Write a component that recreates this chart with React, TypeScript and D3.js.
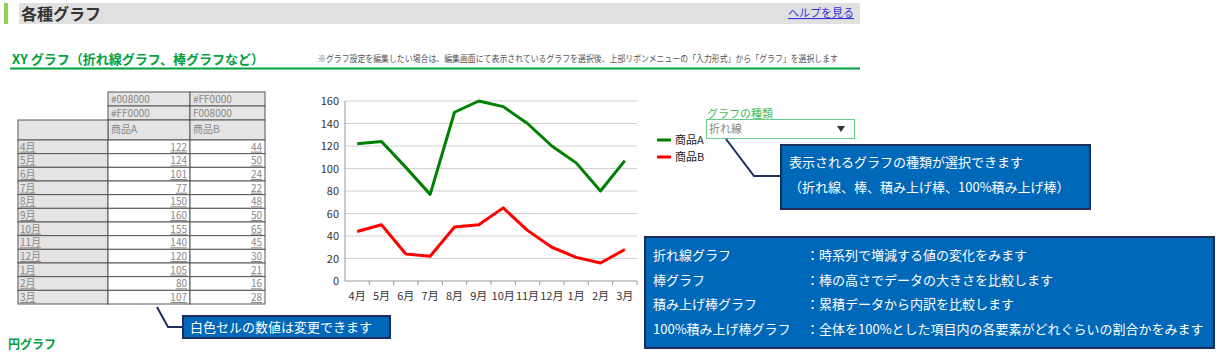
import React from 'react';
import * as d3 from 'd3';

const months = ['4月', '5月', '6月', '7月', '8月', '9月', '10月', '11月', '12月', '1月', '2月', '3月'];
const seriesNames = ['商品A', '商品B'];
const seriesColors = ['#008000', '#FF0000'];
const colorRow1 = ['#008000', '#FF0000'];
const colorRow2 = ['#FF0000', 'F008000'];
const valuesA = [122, 124, 101, 77, 150, 160, 155, 140, 120, 105, 80, 107];
const valuesB = [44, 50, 24, 22, 48, 50, 65, 45, 30, 21, 16, 28];
const yTicks = [0, 20, 40, 60, 80, 100, 120, 140, 160];

const graphTypes = ['折れ線グラフ', '棒グラフ', '積み上げ棒グラフ', '100%積み上げ棒グラフ'];
const graphDescs = [
  '：時系列で増減する値の変化をみます',
  '：棒の高さでデータの大きさを比較します',
  '：累積データから内訳を比較します',
  '：全体を100%とした項目内の各要素がどれぐらいの割合かをみます',
];

const FONT = '"Noto Sans CJK JP", "Noto Sans", sans-serif';

export default function App() {
  const W = 1219;
  const H = 352;

  // chart scales
  const x = d3.scaleBand<string>().domain(months).range([345, 637]);
  const y = d3.scaleLinear().domain([0, 160]).range([281, 101]);
  const series = [valuesA, valuesB];
  const line = d3.line<number>()
    .x((_, i) => (x(months[i]) || 0) + x.bandwidth() / 2)
    .y(d => y(d));

  // table scales
  const rowY = d3.scaleBand<string>().domain(months).range([140, 304]);
  const colX = [18, 108, 190, 265];
  const values = [valuesA, valuesB];

  return (
    <div style={{ position: 'absolute', left: 0, top: 0 }}>
      <svg width={W} height={H} style={{ display: 'block', fontFamily: FONT }}>
        <rect width={W} height={H} fill="#fff" />

        {/* page header */}
        <rect x={4} y={3} width={4} height={21} fill="#8fd14f" />
        <rect x={19} y={3} width={841} height={21} fill="#e0e0e0" />
        <text x={21} y={20} fontSize={16} fontWeight="bold" fill="#333">各種グラフ</text>
        <text x={788} y={17} fontSize={11} fill="#3333dd" textDecoration="underline">ヘルプを見る</text>

        {/* section title */}
        <text x={12} y={64} fontSize={13} fontWeight="bold" fill="#00a040">XY グラフ（折れ線グラフ、棒グラフなど）</text>
        <text x={318} y={62} fontSize={9} fill="#555" textLength={520} lengthAdjust="spacingAndGlyphs">
          ※グラフ設定を編集したい場合は、編集画面にて表示されているグラフを選択後、上部リボンメニューの「入力形式」から「グラフ」を選択します
        </text>
        <line x1={10} x2={860} y1={68.5} y2={68.5} stroke="#00a040" strokeWidth={2} />

        {/* data table */}
        <g fontSize={10} fill="#888">
          {[0, 1].map(c => (
            <g key={'h' + c}>
              <rect x={colX[c + 1]} y={92} width={colX[c + 2] - colX[c + 1]} height={14} fill="#e4e4e4" stroke="#555" strokeWidth={1} />
              <rect x={colX[c + 1]} y={106} width={colX[c + 2] - colX[c + 1]} height={14} fill="#e4e4e4" stroke="#555" strokeWidth={1} />
              <rect x={colX[c + 1]} y={120} width={colX[c + 2] - colX[c + 1]} height={20} fill="#e4e4e4" stroke="#555" strokeWidth={1} />
              <text x={colX[c + 1] + 3} y={103}>{colorRow1[c]}</text>
              <text x={colX[c + 1] + 3} y={117}>{colorRow2[c]}</text>
              <text x={colX[c + 1] + 3} y={133}>{seriesNames[c]}</text>
            </g>
          ))}
          <rect x={colX[0]} y={120} width={colX[1] - colX[0]} height={20} fill="#e4e4e4" stroke="#555" strokeWidth={1} />
          {months.map((m, i) => {
            const ry = rowY(m) || 0;
            const h = rowY.bandwidth();
            return (
              <g key={m}>
                <rect x={colX[0]} y={ry} width={colX[1] - colX[0]} height={h} fill="#e4e4e4" stroke="#555" strokeWidth={1} />
                <text x={colX[0] + 2} y={ry + h - 3} textDecoration="underline">{m}</text>
                {[0, 1].map(c => (
                  <g key={c}>
                    <rect x={colX[c + 1]} y={ry} width={colX[c + 2] - colX[c + 1]} height={h} fill="#fff" stroke="#555" strokeWidth={1} />
                    <text x={colX[c + 2] - 3} y={ry + h - 3} textAnchor="end" textDecoration="underline">{values[c][i]}</text>
                  </g>
                ))}
              </g>
            );
          })}
        </g>

        {/* table callout */}
        <polyline points="157,307 168,327 183,327" fill="none" stroke="#1f2d5c" strokeWidth={2} />
        <rect x={183} y={316} width={207} height={22} fill="#0068b8" stroke="#1f2d5c" strokeWidth={2} />
        <text x={190} y={332} fontSize={13} fill="#fff">白色セルの数値は変更できます</text>

        {/* line chart */}
        <g>
          {yTicks.map(t => (
            <g key={t}>
              <line x1={345} x2={637} y1={y(t)} y2={y(t)} stroke={t === 0 ? '#999' : '#d0d0d0'} strokeWidth={1} />
              <text x={339} y={y(t) + 4} textAnchor="end" fontSize={11} fill="#333">{t}</text>
            </g>
          ))}
          <line x1={345} x2={345} y1={101} y2={281} stroke="#999" strokeWidth={1} />
          {months.map(m => (
            <g key={m}>
              <line x1={(x(m) || 0) + x.bandwidth()} x2={(x(m) || 0) + x.bandwidth()} y1={281} y2={285} stroke="#999" />
              <text x={(x(m) || 0) + x.bandwidth() / 2} y={300} textAnchor="middle" fontSize={11} fill="#333">{m}</text>
            </g>
          ))}
          {series.map((s, i) => (
            <path key={i} d={line(s) || ''} fill="none" stroke={seriesColors[i]} strokeWidth={3} strokeLinejoin="round" />
          ))}
        </g>

        {/* legend */}
        {seriesNames.map((n, i) => (
          <g key={n}>
            <line x1={657} x2={671} y1={140 + i * 17} y2={140 + i * 17} stroke={seriesColors[i]} strokeWidth={3} />
            <text x={675} y={144 + i * 17} fontSize={11} fill="#222">{n}</text>
          </g>
        ))}

        {/* graph type selector */}
        <text x={707} y={118} fontSize={11} fill="#44bb55">グラフの種類</text>
        <rect x={706.5} y={119.5} width={148} height={19} fill="#fff" stroke="#66cc88" strokeWidth={1} />
        <text x={709} y={133} fontSize={11} fill="#888">折れ線</text>
        <path d="M837,126 L845,126 L841,132 Z" fill="#333" />

        {/* selector callout */}
        <polyline points="726,139 754,176 781,176" fill="none" stroke="#1f2d5c" strokeWidth={2} />
        <rect x={781} y={145} width={309} height={64} fill="#0068b8" stroke="#1f2d5c" strokeWidth={2} />
        <text x={789} y={167} fontSize={13} fill="#fff">表示されるグラフの種類が選択できます</text>
        <text x={789} y={192} fontSize={13} fill="#fff">（折れ線、棒、積み上げ棒、100%積み上げ棒）</text>

        {/* description box */}
        <rect x={645} y={237} width={569} height={111} fill="#0068b8" stroke="#1f2d5c" strokeWidth={2} />
        {graphTypes.map((g, i) => (
          <g key={g}>
            <text x={653} y={260 + i * 24.7} fontSize={13} fill="#fff">{g}</text>
            <text x={806} y={260 + i * 24.7} fontSize={13} fill="#fff">{graphDescs[i]}</text>
          </g>
        ))}

        <text x={8} y={349} fontSize={12} fontWeight="bold" fill="#00a040">円グラフ</text>
      </svg>
    </div>
  );
}
